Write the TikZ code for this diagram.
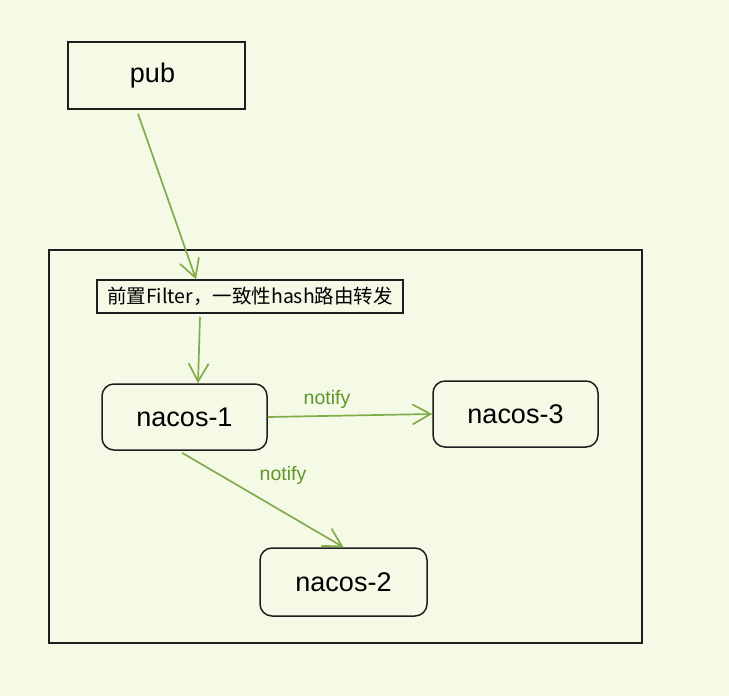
\documentclass[tikz,border=0pt]{standalone}
\usepackage{fontspec}
\setmainfont{Liberation Sans}
\newfontfamily\cjk{Noto Sans CJK SC}
\usetikzlibrary{arrows.meta,positioning}
\definecolor{PaperGreen}{HTML}{F5FAE6}
\definecolor{LinkGreen}{HTML}{80AC4C}
\definecolor{NoteGreen}{HTML}{609628}
\definecolor{InkBlack}{HTML}{1E1E1E}

\begin{document}
\begin{tikzpicture}[x=1pt,y=-1pt,
 box/.style={draw=InkBlack,line width=1.5pt,fill=PaperGreen,inner sep=0pt,
  minimum width=177pt,minimum height=67pt,font=\fontsize{27}{32}\selectfont},
 nacos/.style={box,rounded corners=12pt,minimum width=165pt,minimum height=66pt},
 filterbox/.style={box,minimum width=306pt,minimum height=33pt,
  font=\cjk\fontsize{19.5}{23}\selectfont},
 note/.style={text=NoteGreen,font=\fontsize{19.5}{23}\selectfont,inner sep=1pt},
 link/.style={-{Straight Barb[length=18pt,width=20pt]},draw=LinkGreen,line width=1.7pt}]
\useasboundingbox[fill=PaperGreen] (0,0) rectangle (729,696);
\node[draw=InkBlack,line width=1.3pt,minimum width=593pt,minimum height=393pt,inner sep=0pt] (cluster) at (345.5,446.5) {};
\node[box] (pub) at (156.5,75.5) {pub\hspace*{8pt}};
\node[filterbox] (filter) at (250,296.5) {前置Filter，一致性hash路由转发};
\node[nacos] (n1) at (184.5,417) {nacos-1};
\node[nacos] (n3) at (515.5,414) {nacos-3};
\node[nacos,minimum width=167pt,minimum height=68pt] (n2) at (343.5,582) {nacos-2};
% connectors
\draw[link] ([xshift=-18.5pt,yshift=-4pt]pub.south) -- ([xshift=-54pt]filter.north);
\draw[link] ([xshift=-50pt,yshift=-3pt]filter.south) -- ([xshift=13.5pt]n1.north);
\draw[link] (n1.east) -- node[note,pos=0.36,above=6pt] (note1) {notify} (n3.west);
\draw[link] ([xshift=-2.5pt,yshift=-2pt]n1.south) -- (n2.north);
\node[note] (note2) at (283,475) {notify};
\end{tikzpicture}
\end{document}
